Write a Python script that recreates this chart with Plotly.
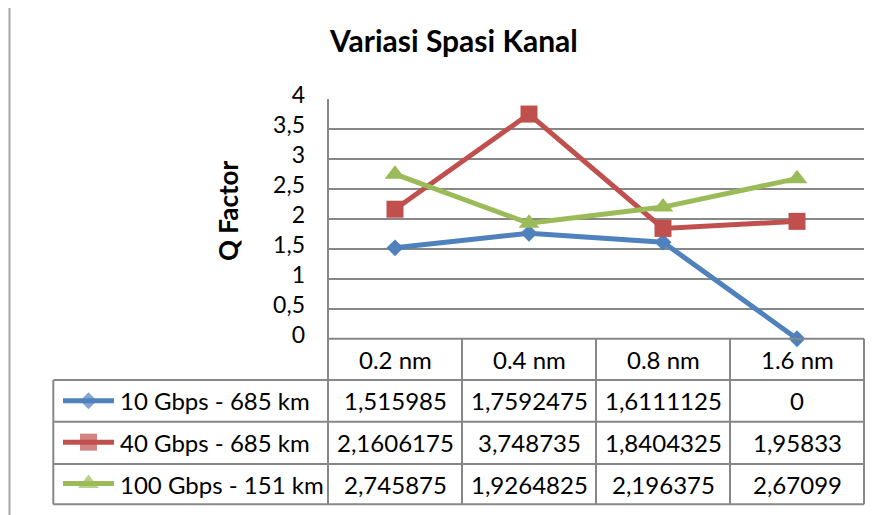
import plotly.graph_objects as go

# ---------------- data ----------------
categories = ["0.2 nm", "0.4 nm", "0.8 nm", "1.6 nm"]
series_names = ["10 Gbps - 685 km", "40 Gbps - 685 km", "100 Gbps - 151 km"]
q_10g = [1.515985, 1.7592475, 1.6111125, 0]
q_40g = [2.1606175, 3.748735, 1.8404325, 1.95833]
q_100g = [2.745875, 1.9264825, 2.196375, 2.67099]
y_tick_values = [0, 0.5, 1, 1.5, 2, 2.5, 3, 3.5, 4]
y_tick_labels = ["0", "0,5", "1", "1,5", "2", "2,5", "3", "3,5", "4"]
title_text = "Variasi Spasi Kanal"
y_title = "Q Factor"

# ---------------- styling ----------------
OFF = 8                      # page body margin offset
W, H = 882 - OFF, 515 - OFF  # figure size
FONT = "Lato"
GRID = "#878787"
colors = ["#4F81BD", "#C0504D", "#9BBB59"]
symbols = ["diamond", "square", "triangle-up"]
msizes = [13, 17, 18]
all_series = [q_10g, q_40g, q_100g]


def px(x):
    return (x - OFF) / W


def py(y):
    return 1 - (y - OFF) / H


# pixel geometry (screen coords) of chart + data table
PL, PR, PT, PB = 328, 864, 99, 338.7
TL = 53.3
ROWS = [338.7, 380, 421.7, 464, 504.3]

fig = go.Figure()

for name, vals, c, s, ms in zip(series_names, all_series, colors, symbols, msizes):
    fig.add_trace(go.Scatter(
        x=categories, y=vals, name=name, mode="lines+markers",
        line=dict(color=c, width=5),
        marker=dict(symbol=s, size=ms, color=c, line=dict(width=0)),
        showlegend=False, cliponaxis=False,
    ))

# legend keys inside the data table (second axis pair)
for i, (c, s, ms) in enumerate(zip(colors, symbols, msizes)):
    fig.add_trace(go.Scatter(
        x=[0, 0.5, 1], y=[i + 0.5] * 3, mode="lines+markers",
        line=dict(color=c, width=5),
        marker=dict(symbol=s, size=[0, ms, 0], color=c, line=dict(width=0)),
        xaxis="x2", yaxis="y2", showlegend=False, cliponaxis=False,
        hoverinfo="skip",
    ))

shapes = []


def hline(y, x0, x1):
    shapes.append(dict(type="line", xref="paper", yref="paper",
                       x0=px(x0), x1=px(x1), y0=py(y), y1=py(y),
                       line=dict(color=GRID, width=2)))


def vline(x, y0, y1, color=GRID):
    shapes.append(dict(type="line", xref="paper", yref="paper",
                       x0=px(x), x1=px(x), y0=py(y0), y1=py(y1),
                       line=dict(color=color, width=2)))


# table grid
hline(ROWS[0], PL, PR)
for y in ROWS[1:]:
    hline(y, TL, PR)
vline(TL, ROWS[1], ROWS[-1])
vline(PL, PT, ROWS[-1])
col_w = (PR - PL) / len(categories)
for k in range(1, len(categories) + 1):
    vline(PL + k * col_w, ROWS[0], ROWS[-1])
# page border line at left
vline(9.5, OFF, 515, color="#A6A6A6")

annotations = []
tfont = dict(family=FONT, size=24, color="black")
# header
for cat in categories:
    annotations.append(dict(x=cat, xref="x", y=py((ROWS[0] + ROWS[1]) / 2), yref="paper",
                            text=cat, showarrow=False, font=tfont,
                            xanchor="center", yanchor="middle"))
# body
for r, (name, vals) in enumerate(zip(series_names, all_series)):
    yc = py((ROWS[r + 1] + ROWS[r + 2]) / 2)
    annotations.append(dict(x=px(118), xref="paper", y=yc, yref="paper", text=name,
                            showarrow=False, font=tfont, xanchor="left", yanchor="middle"))
    for cat, v in zip(categories, vals):
        annotations.append(dict(x=cat, xref="x", y=yc, yref="paper",
                                text=str(v).replace(".", ","), showarrow=False,
                                font=tfont, xanchor="center", yanchor="middle"))
# titles
annotations.append(dict(x=px(453.5), y=py(40), xref="paper", yref="paper",
                        text="<b>" + title_text + "</b>", showarrow=False,
                        font=dict(family=FONT, size=30, color="black"),
                        xanchor="center", yanchor="middle"))
annotations.append(dict(x=px(228), y=py(211), xref="paper", yref="paper",
                        text="<b>" + y_title + "</b>", showarrow=False, textangle=-90,
                        font=dict(family=FONT, size=26, color="black"),
                        xanchor="center", yanchor="middle"))

fig.update_layout(
    width=W, height=H, autosize=False,
    margin=dict(l=0, r=0, t=0, b=0, autoexpand=False),
    paper_bgcolor="white", plot_bgcolor="white",
    xaxis=dict(domain=[px(PL), px(PR)], range=[-0.5, 3.5], type="category",
               showgrid=False, showline=False, zeroline=False, showticklabels=False,
               fixedrange=True, automargin=False),
    yaxis=dict(domain=[py(PB), py(PT)], range=[0, 4], tickvals=y_tick_values,
               ticktext=y_tick_labels, showgrid=True, gridcolor=GRID, gridwidth=2,
               zeroline=False, showline=False, ticklabelstandoff=22, automargin=False,
               ticklabelshift=-4,
               tickfont=dict(family=FONT, size=23, color="black"), fixedrange=True),
    xaxis2=dict(domain=[px(63), px(114)], range=[0, 1], visible=False, anchor="y2",
                automargin=False),
    yaxis2=dict(domain=[py(ROWS[-1]), py(ROWS[1])], range=[3, 0], visible=False,
                anchor="x2", automargin=False),
    shapes=shapes, annotations=annotations, showlegend=False,
)

fig.write_html("out.html")
